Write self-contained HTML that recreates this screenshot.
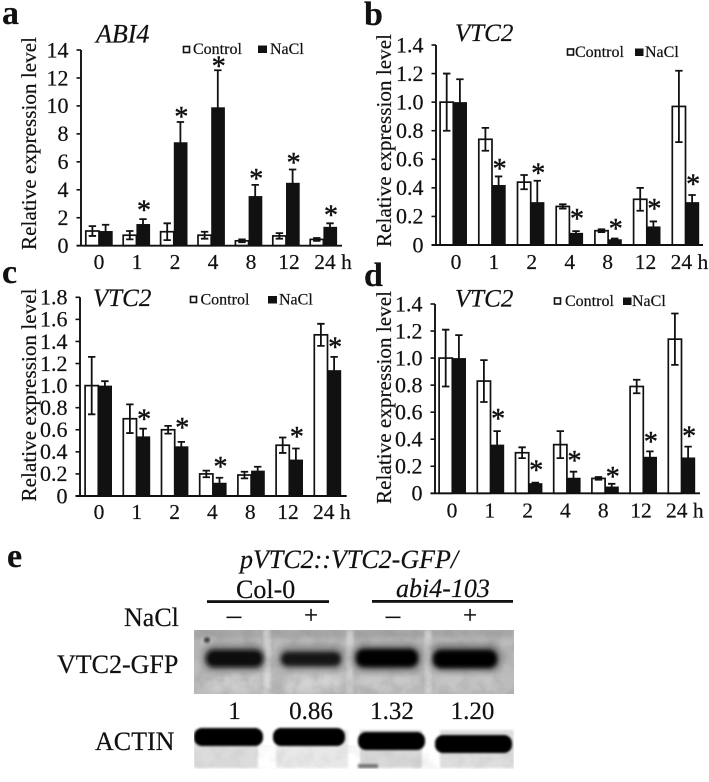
<!DOCTYPE html>
<html lang="en">
<head>
<meta charset="utf-8">
<title>Relative expression of ABI4 and VTC2 under NaCl</title>
<style>
html,body{margin:0;padding:0;background:#fff;width:709px;height:782px;overflow:hidden}
svg{display:block}
text{font-family:"Liberation Serif",serif;fill:#111;stroke:#111;stroke-width:.2}
.letter{font-size:34px;font-weight:bold}
.title{font-style:italic}
.legend{font-size:16px}
.ylabel{font-size:21.2px}
.tick{font-size:22px}
.xtick{font-size:21.5px}
.star{font-size:28px;stroke-width:.45}
.e{font-size:26px}
</style>
</head>
<body>
<svg id="fig" width="709" height="782" viewBox="0 0 709 782" xmlns="http://www.w3.org/2000/svg">
<defs>
<filter id="b1" x="-20%" y="-60%" width="140%" height="220%"><feGaussianBlur stdDeviation="2.2"/></filter>
<filter id="b2" x="-20%" y="-40%" width="140%" height="180%"><feGaussianBlur stdDeviation="1"/></filter>
<filter id="b3" x="-30%" y="-60%" width="160%" height="220%"><feGaussianBlur stdDeviation="4"/></filter>
<filter id="mottle" x="0" y="0" width="100%" height="100%">
<feTurbulence type="fractalNoise" baseFrequency="0.07" numOctaves="3" seed="7"/>
<feColorMatrix type="matrix" values="0 0 0 0 0.25  0 0 0 0 0.25  0 0 0 0 0.25  1.6 0 0 0 -0.6"/>
</filter>
<clipPath id="c1"><rect x="194" y="630" width="320" height="64"/></clipPath>
<clipPath id="c2"><rect x="194" y="726" width="320" height="43"/></clipPath>
</defs>
<rect width="709" height="782" fill="#fff"/>

<g id="panel-a">
<text class="letter" x="2" y="24">a</text>
<text class="title" x="96" y="42.5" font-size="26">ABI4</text>
<text class="ylabel" transform="translate(36 143.5) rotate(-90)" text-anchor="middle">Relative expression level</text>
<g>
<rect x="183.5" y="46.5" width="6" height="6" fill="#fff" stroke="#111" stroke-width="1.6"/>
<text class="legend" x="193" y="54">Control</text>
<rect x="258" y="45.5" width="9" height="7.5" fill="#111"/>
<text class="legend" x="270" y="54">NaCl</text>
</g>
</g>

<g id="panel-b">
<text class="letter" x="364" y="25">b</text>
<text class="title" x="455" y="41" font-size="25">VTC2</text>
<text class="ylabel" transform="translate(391 140.5) rotate(-90)" text-anchor="middle">Relative expression level</text>
<g>
<rect x="567.5" y="49" width="6" height="6" fill="#fff" stroke="#111" stroke-width="1.6"/>
<text class="legend" x="575" y="57">Control</text>
<rect x="635" y="48.5" width="8.5" height="7.5" fill="#111"/>
<text class="legend" x="645" y="57">NaCl</text>
</g>
</g>

<g id="panel-c">
<text class="letter" x="2" y="283">c</text>
<text class="title" x="93" y="306" font-size="25">VTC2</text>
<text class="ylabel" transform="translate(36 395) rotate(-90)" text-anchor="middle">Relative expression level</text>
<g>
<rect x="190.5" y="296.5" width="6" height="6" fill="#fff" stroke="#111" stroke-width="1.6"/>
<text class="legend" x="200.5" y="304.5">Control</text>
<rect x="268" y="296" width="9" height="7.5" fill="#111"/>
<text class="legend" x="279" y="304.5">NaCl</text>
</g>
</g>

<g id="panel-d">
<text class="letter" x="364" y="286">d</text>
<text class="title" x="455" y="306.5" font-size="25">VTC2</text>
<text class="ylabel" transform="translate(391 397.5) rotate(-90)" text-anchor="middle">Relative expression level</text>
<g>
<rect x="554.5" y="298" width="6" height="6" fill="#fff" stroke="#111" stroke-width="1.6"/>
<text class="legend" x="565" y="306">Control</text>
<rect x="623" y="297.5" width="8.5" height="7.5" fill="#111"/>
<text class="legend" x="632" y="306">NaCl</text>
</g>
</g>

<g id="panel-e">
<text class="letter" x="7" y="567">e</text>
<text class="e" x="240" y="568" font-style="italic">pVTC2::VTC2-GFP/</text>
<text class="e" x="236" y="598">Col-0</text>
<text class="e" x="396" y="597" font-style="italic">abi4-103</text>
<rect x="207" y="600.2" width="122" height="2.8" fill="#111"/>
<rect x="372" y="600" width="141" height="2.8" fill="#111"/>
<text class="e" x="124" y="626">NaCl</text>
<text x="234" y="624" font-size="29" text-anchor="middle">–</text>
<text x="311" y="623.5" font-size="25" text-anchor="middle">+</text>
<text x="393" y="624" font-size="29" text-anchor="middle">–</text>
<text x="470" y="623.5" font-size="25" text-anchor="middle">+</text>
<text class="e" x="57" y="673">VTC2-GFP</text>
<text class="e" x="95" y="750">ACTIN</text>

<g clip-path="url(#c1)">
<rect x="194" y="630" width="320" height="64" fill="#bcbcbc"/>
<rect x="194" y="628" width="320" height="10" fill="#a8a8a8" filter="url(#b1)"/>
<rect x="264" y="630" width="6" height="64" fill="#dcdcdc" filter="url(#b1)"/>
<rect x="347" y="630" width="6" height="64" fill="#d4d4d4" filter="url(#b1)"/>
<rect x="425" y="630" width="6" height="64" fill="#d4d4d4" filter="url(#b1)"/>
<rect x="210" y="672" width="50" height="20" fill="#cfcfcf" filter="url(#b3)"/>
<rect x="285" y="672" width="55" height="20" fill="#d2d2d2" filter="url(#b3)"/>
<rect x="358" y="672" width="60" height="18" fill="#c8c8c8" filter="url(#b3)"/>
<rect x="438" y="672" width="58" height="20" fill="#c6c6c6" filter="url(#b3)"/>
<rect x="194" y="630" width="320" height="64" filter="url(#mottle)" opacity=".45"/>
<circle cx="207" cy="640" r="3" fill="#444" filter="url(#b2)"/>
<rect x="203" y="645" width="62" height="26" rx="10" fill="#777" filter="url(#b3)"/>
<rect x="278" y="646" width="66" height="24" rx="10" fill="#808080" filter="url(#b3)"/>
<rect x="353" y="645" width="68" height="26" rx="10" fill="#6a6a6a" filter="url(#b3)"/>
<rect x="431" y="645" width="70" height="26" rx="10" fill="#6a6a6a" filter="url(#b3)"/>
<rect x="206" y="650" width="57" height="17" rx="8" fill="#0a0a0a" filter="url(#b1)"/>
<rect x="281" y="652" width="60" height="14" rx="7" fill="#181818" filter="url(#b1)"/>
<rect x="356" y="649" width="62" height="18" rx="8" fill="#000" filter="url(#b1)"/>
<rect x="433" y="650" width="64" height="18" rx="8" fill="#000" filter="url(#b1)"/>
</g>
<text class="e" x="234.5" y="719" text-anchor="middle" style="font-size:25px">1</text>
<text class="e" x="311" y="719" text-anchor="middle" style="font-size:25px">0.86</text>
<text class="e" x="392" y="719" text-anchor="middle" style="font-size:25px">1.32</text>
<text class="e" x="472.5" y="719" text-anchor="middle" style="font-size:25px">1.20</text>

<g clip-path="url(#c2)">
<rect x="194" y="730" width="64" height="38" fill="#dcdcdc" filter="url(#b2)"/>
<rect x="276" y="730" width="72" height="38" fill="#e8e8e8" filter="url(#b2)"/>
<rect x="360" y="730" width="62" height="38" fill="#d8d8d8" filter="url(#b2)"/>
<rect x="440" y="730" width="74" height="38" fill="#dedede" filter="url(#b2)"/>
<rect x="194" y="745" width="320" height="24" filter="url(#mottle)" opacity=".18"/>
<rect x="358" y="764" width="20" height="4" fill="#777" filter="url(#b2)"/>
<rect x="194" y="728" width="69" height="18" rx="8" fill="#000" filter="url(#b2)"/>
<rect x="273" y="728" width="72" height="18" rx="8" fill="#000" filter="url(#b2)"/>
<rect x="358" y="732" width="67" height="18" rx="8" fill="#000" filter="url(#b2)"/>
<rect x="435" y="735" width="77" height="18" rx="8" fill="#000" filter="url(#b2)"/>
</g>
</g>
</svg>

<script>
// Shared axis categories
var timeLabels = ["0", "1", "2", "4", "8", "12", "24 h"];

// Panel a: ABI4
var aTicks = ["0", "2", "4", "6", "8", "10", "12", "14"];
var aControl = [1.05, 0.75, 1.0, 0.75, 0.35, 0.7, 0.45];
var aControlErr = [0.35, 0.3, 0.6, 0.25, 0.1, 0.2, 0.1];
var aNaCl = [1.05, 1.55, 7.4, 9.9, 3.55, 4.5, 1.35];
var aNaClErr = [0.45, 0.35, 1.45, 2.65, 0.8, 0.95, 0.25];
var aStarGap = [null, 0.9, 0.65, 0.55, 0.7, 0.75, 0.85];

// Panel b: VTC2
var bTicks = ["0", "0.2", "0.4", "0.6", "0.8", "1.0", "1.2", "1.4"];
var bControl = [1.0, 0.74, 0.44, 0.27, 0.1, 0.32, 0.97];
var bControlErr = [0.2, 0.08, 0.05, 0.015, 0.01, 0.08, 0.25];
var bNaCl = [1.0, 0.42, 0.3, 0.085, 0.04, 0.13, 0.3];
var bNaClErr = [0.16, 0.06, 0.15, 0.012, 0.005, 0.035, 0.05];
var bStarGap = [null, 0.08, 0.08, 0.113, 0.095, 0.115, 0.1];

// Panel c: VTC2
var cTicks = ["0", "0.2", "0.4", "0.6", "0.8", "1.0", "1.2", "1.4", "1.6", "1.8"];
var cControl = [1.0, 0.7, 0.6, 0.2, 0.19, 0.46, 1.46];
var cControlErr = [0.26, 0.13, 0.035, 0.03, 0.03, 0.07, 0.1];
var cNaCl = [1.0, 0.54, 0.45, 0.12, 0.23, 0.33, 1.14];
var cNaClErr = [0.04, 0.07, 0.04, 0.045, 0.035, 0.1, 0.12];
var cStarGap = [null, 0.12, 0.16, 0.135, null, 0.14, 0.12];

// Panel d: VTC2
var dTicks = ["0", "0.2", "0.4", "0.6", "0.8", "1.0", "1.2", "1.4"];
var dControl = [1.0, 0.83, 0.3, 0.36, 0.11, 0.79, 1.14];
var dControlErr = [0.21, 0.155, 0.04, 0.1, 0.01, 0.05, 0.19];
var dNaCl = [1.0, 0.36, 0.075, 0.115, 0.05, 0.27, 0.265];
var dNaClErr = [0.17, 0.1, 0.004, 0.045, 0.02, 0.04, 0.08];
var dStarGap = [null, 0.12, 0.12, 0.11, 0.08, 0.1, 0.105];

var SVGNS = "http://www.w3.org/2000/svg";
var INK = "#111";

function make(parent, tag, attrs, txt) {
  var node = document.createElementNS(SVGNS, tag);
  for (var k in attrs) node.setAttribute(k, attrs[k]);
  if (txt !== undefined) node.textContent = txt;
  parent.appendChild(node);
  return node;
}

function drawPanel(p) {
  var root = document.getElementById(p.id);
  var max = parseFloat(p.ticks[p.ticks.length - 1]);
  var yOf = function (v) { return p.y0 - (v / max) * (p.y0 - p.yTop); };
  var xOf = function (i) { return p.c0 + i * p.step; };
  var labelX = function (i) { return p.lab0 + i * p.labStep + (i === timeLabels.length - 1 ? 6 : 0); };
  var barW = 13.2;

  p.control.forEach(function (v, i) {
    var bar = make(root, "rect", { x: xOf(i) - barW, y: yOf(v), width: barW, height: p.y0 - yOf(v), fill: "#fff", stroke: INK, "stroke-width": 1.7 });
    
    
  });
  p.nacl.forEach(function (v, i) {
    var bar = make(root, "rect", { x: xOf(i), y: yOf(v), width: barW + 0.5, height: p.y0 - yOf(v), fill: INK });
    
    
  });

  function errorBar(cx, v, e, name) {
    var cap = 3.7;
    var d = "M" + cx + " " + yOf(v - e) + "V" + yOf(v + e) +
      "M" + (cx - cap) + " " + yOf(v + e) + "H" + (cx + cap) +
      "M" + (cx - cap) + " " + yOf(v - e) + "H" + (cx + cap);
    var path = make(root, "path", { d: d, fill: "none", stroke: INK, "stroke-width": 1.8 });
    
    
  }
  p.control.forEach(function (v, i) { errorBar(xOf(i) - barW / 2, v, p.controlErr[i], 'error-bar-control'); });
  p.nacl.forEach(function (v, i) { errorBar(xOf(i) + barW / 2, v, p.naclErr[i], 'error-bar-nacl'); });

  p.starGap.forEach(function (gap, i) {
    if (gap === null) return;
    var level = p.nacl[i] + p.naclErr[i] + gap;
    var star = make(root, "text", { class: "star", x: xOf(i) + barW / 2 + 1, y: yOf(level) + 13, "text-anchor": "middle" }, "*");
    
    
  });

  var axis = make(root, "path", { d: "M" + p.ax + " " + p.yTop + "V" + p.y0 + "M" + (p.ax - 4.5) + " " + p.y0 + "H" + p.xEnd, fill: "none", stroke: INK, "stroke-width": 1.9 });
  
  

  p.ticks.forEach(function (t) {
    var y = yOf(parseFloat(t));
    var tick = make(root, "line", { x1: p.ax - 4.5, x2: p.ax, y1: y, y2: y, stroke: INK, "stroke-width": 1.6 });
    
    
    var lab = make(root, "text", { class: "tick", x: p.ax - 12.5, y: y + 7.3, "text-anchor": "end" }, t);
    
    
  });

  timeLabels.forEach(function (t, i) {
    var lab = make(root, "text", { class: "xtick", x: labelX(i), y: p.xLabY, "text-anchor": "middle" }, t);
    
    
  });
}

drawPanel({ id: "panel-a", ticks: aTicks, control: aControl, controlErr: aControlErr, nacl: aNaCl, naclErr: aNaClErr, starGap: aStarGap,
  ax: 81, y0: 245.7, yTop: 50, xEnd: 342, c0: 99, step: 37.4, lab0: 99, labStep: 38, xLabY: 269 });
drawPanel({ id: "panel-b", ticks: bTicks, control: bControl, controlErr: bControlErr, nacl: bNaCl, naclErr: bNaClErr, starGap: bStarGap,
  ax: 436, y0: 245, yTop: 45, xEnd: 703, c0: 453.3, step: 38.7, lab0: 456, labStep: 37.9, xLabY: 269 });
drawPanel({ id: "panel-c", ticks: cTicks, control: cControl, controlErr: cControlErr, nacl: cNaCl, naclErr: cNaClErr, starGap: cStarGap,
  ax: 80, y0: 496, yTop: 297.3, xEnd: 346.7, c0: 98.3, step: 38.2, lab0: 99, labStep: 37.8, xLabY: 519 });
drawPanel({ id: "panel-d", ticks: dTicks, control: dControl, controlErr: dControlErr, nacl: dNaCl, naclErr: dNaClErr, starGap: dStarGap,
  ax: 435, y0: 493.3, yTop: 304, xEnd: 700, c0: 452.3, step: 38.2, lab0: 452, labStep: 37.8, xLabY: 517.7 });
</script>
</body>
</html>
